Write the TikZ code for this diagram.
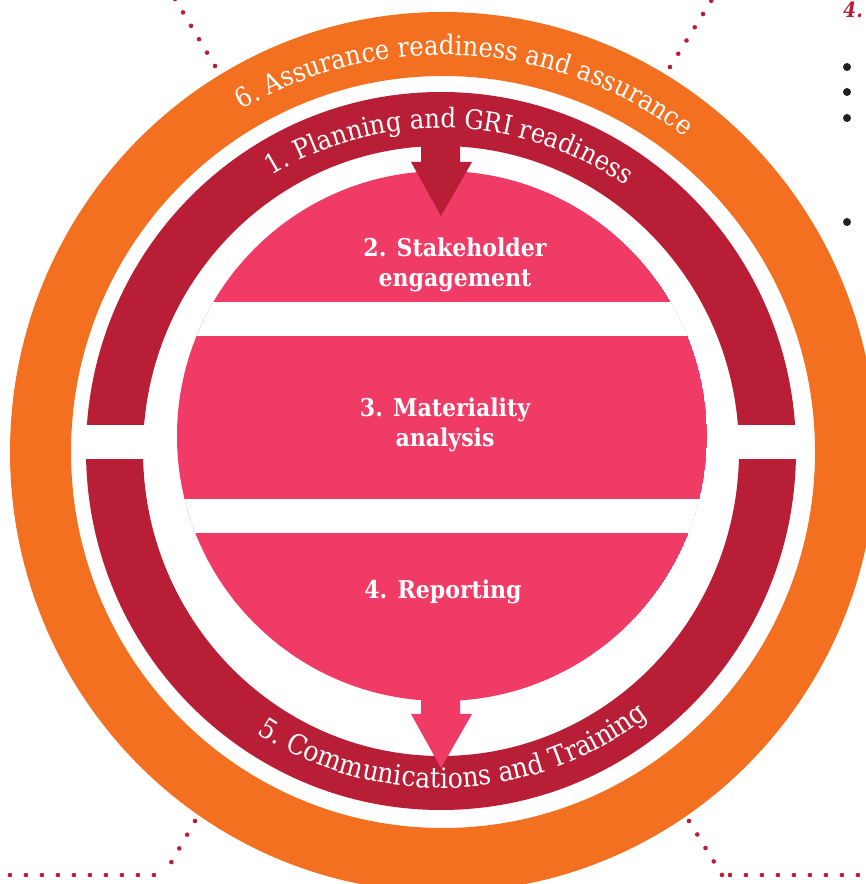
\documentclass[tikz,border=0pt]{standalone}
\usepackage{fontspec}
\IfFontExistsTF{DejaVu Serif Condensed}{\setmainfont{DejaVu Serif Condensed}}{\setmainfont{DejaVu Serif}}
\usetikzlibrary{decorations.text}

\definecolor{ringorange}{HTML}{F37021}
\definecolor{ringred}{HTML}{B81E35}
\definecolor{corepink}{HTML}{EF3B65}
\definecolor{bulletgrey}{HTML}{231F20}

\newcommand\arclabel{\fontsize{27}{31}\selectfont\color{white}}
\newcommand\arclabelwide{\fontsize{28}{32}\selectfont\color{white}}

\tikzset{
  leader/.style={draw=ringred, line width=4.6pt, line cap=round, dash pattern=on 0pt off #1},
  leader/.default=15.6pt,
  phase/.style={text=white, font=\bfseries\fontsize{24.5}{30}\selectfont, align=center, inner sep=0pt},
}

\begin{document}
\begin{tikzpicture}[x=1pt,y=1pt]
\useasboundingbox (0,0) rectangle (866,884);
\clip (0,0) rectangle (866,884);
\coordinate (oc) at (443,432);
\coordinate (rc) at (441,433);
\coordinate (pc) at (442,448);

% outer ring
\fill[ringorange, even odd rule] (oc) ellipse [x radius=433, y radius=440] (oc) ellipse [x radius=372, y radius=376];
% middle ring, split at left and right
\fill[ringred, even odd rule] (rc) ellipse [x radius=355, y radius=359] (rc) ellipse [x radius=298, y radius=305];
\fill[white] (78,425) rectangle (165,459);
\fill[white] (720,425) rectangle (806,459);

% core in three slices
\begin{scope}
\clip (pc) circle [radius=265];
\fill[corepink] (pc) circle [radius=265];
\fill[white] (150,548) rectangle (740,582);
\fill[white] (150,351) rectangle (740,385);
\end{scope}

% arrows in and out of the core
\fill[ringred] (421,745) -- (421,722) -- (411,722) -- (441,668) -- (472,722) -- (460,722) -- (460,745) -- cycle;
\fill[corepink] (421,194) -- (421,170) -- (411,170) -- (441,116) -- (472,170) -- (460,170) -- (460,194) -- cycle;

\node[phase] (stake) at (455,619) {2. Stakeholder\\engagement};
\node[phase] (mater) at (445,459) {3. Materiality\\analysis};
\node[phase] (report) at (443,292) {4. Reporting};

\path[decorate, decoration={text along path, text align=center,
  text={|\arclabel|6. Assurance readiness and assurance}}]
  ([shift={(oc)}]148.5:397) arc [start angle=148.5, end angle=24.5, radius=397];
\path[decorate, decoration={text along path, text align=center,
  text={|\arclabel|1. Planning and GRI readiness}}]
  ([shift={(rc)}]150.4:323) arc [start angle=150.4, end angle=26.4, radius=323];
\path[decorate, decoration={text along path, text align=center,
  text={|\arclabelwide|5. Communications and Training}}]
  ([shift={(rc)}]210.4:337) arc [start angle=210.4, end angle=334.4, radius=337];

% dotted leaders
\coordinate (tlA) at (215,818);
\coordinate (tlB) at (175,885);
\coordinate (trA) at (670,817);
\coordinate (trB) at (713,886);
\coordinate (blA) at (195,63);
\coordinate (blB) at (164,9);
\coordinate (blC) at (154,9);
\coordinate (blD) at (0,9);
\coordinate (brA) at (689,63);
\coordinate (brB) at (722,9);
\coordinate (brC) at (730,9);
\coordinate (brD) at (880,9);
\draw[leader] (tlA) -- (tlB);
\draw[leader] (trA) -- (trB);
\draw[leader=15.8pt] (blA) -- (blB);
\draw[leader=16pt] (blC) -- (blD);
\draw[leader=15.8pt] (brA) -- (brB);
\draw[leader=16pt] (brC) -- (brD);

\node[anchor=base west, text=ringred, font=\bfseries\itshape\fontsize{21}{24}\selectfont, inner sep=0pt] (nextstep) at (843,866) {4.};
\foreach \y in {817,792,766,662}
  \fill[bulletgrey] (847,\y) circle [radius=4];
\end{tikzpicture}
\end{document}
